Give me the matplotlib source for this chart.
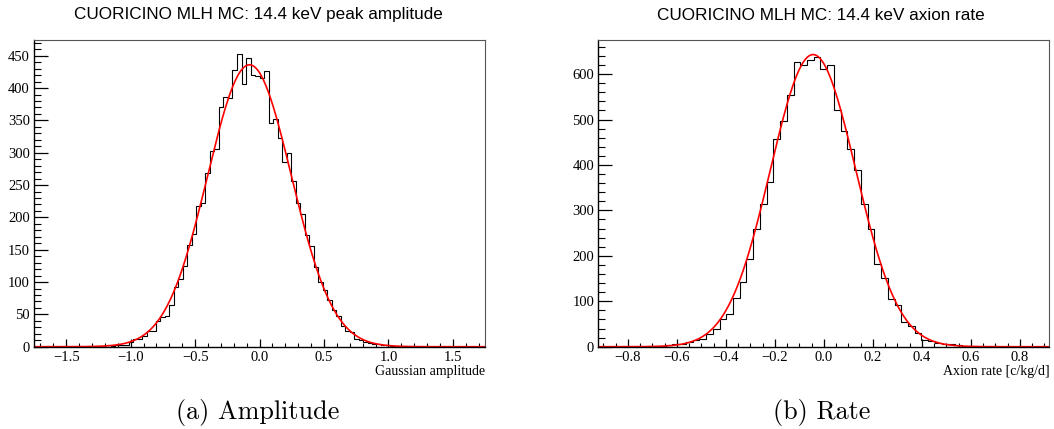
import numpy as np
import matplotlib.pyplot as plt
from matplotlib.ticker import MultipleLocator

# Amplitude histogram: 100 bins on [-1.75, 1.75]
amp_range = (-1.75, 1.75)
amp_counts = ([0] * 17 +
              [1, 2, 2, 3, 8, 12, 12, 17, 25, 25,
               39, 46, 48, 64, 92, 104, 125, 158, 175, 218,
               223, 268, 302, 305, 371, 386, 384, 428, 452, 406,
               447, 420, 418, 415, 427, 346, 352, 322, 286, 299,
               257, 223, 205, 172, 156, 124, 100, 88, 72, 57,
               47, 32, 25, 22, 12, 10, 8, 6, 4, 4, 3, 3, 1] +
              [0] * 20)
amp_fit = dict(amp=436, mean=-0.078, sigma=0.325)

# Rate histogram: 67 bins on [-0.92, 0.92]
rate_range = (-0.92, 0.92)
rate_counts = ([0] * 9 +
               [1, 3, 5, 6, 10, 14, 18, 28, 39, 60,
                71, 108, 143, 193, 259, 314, 363, 457, 496, 553,
                626, 619, 630, 637, 612, 620, 520, 474, 436, 388,
                314, 260, 183, 152, 104, 91, 54, 45, 31, 15,
                12, 9, 7, 5, 3] +
               [0] * 13)
rate_fit = dict(amp=643, mean=-0.044, sigma=0.174)

serif = "Liberation Serif"


def draw(ax, counts, xr, fit, ymax, xmaj, xmin, ymaj, ymin, xlabel):
    edges = np.linspace(xr[0], xr[1], len(counts) + 1)
    ax.stairs(counts, edges, color="black", lw=0.8)
    xs = np.linspace(xr[0], xr[1], 600)
    ax.plot(xs, fit["amp"] * np.exp(-0.5 * ((xs - fit["mean"]) / fit["sigma"]) ** 2),
            color="red", lw=1.2)
    ax.set_xlim(xr)
    ax.set_ylim(0, ymax)
    ax.xaxis.set_major_locator(MultipleLocator(xmaj))
    ax.xaxis.set_minor_locator(MultipleLocator(xmin))
    ax.yaxis.set_major_locator(MultipleLocator(ymaj))
    ax.yaxis.set_minor_locator(MultipleLocator(ymin))
    ax.tick_params(axis="x", which="major", direction="in", length=6, width=0.9, pad=3)
    ax.tick_params(axis="x", which="minor", direction="in", length=3, width=0.8)
    ax.tick_params(axis="y", which="major", direction="in", length=10, width=0.9, pad=3)
    ax.tick_params(axis="y", which="minor", direction="in", length=5, width=0.8)
    ax.tick_params(top=False, right=False, which="both")
    for lab in ax.get_xticklabels() + ax.get_yticklabels():
        lab.set_fontfamily(serif)
        lab.set_fontsize(10.5)
    for s in ["left", "bottom"]:
        ax.spines[s].set_color("black")
        ax.spines[s].set_linewidth(1.0)
    for s in ["top", "right"]:
        ax.spines[s].set_color("#555555")
        ax.spines[s].set_linewidth(0.8)
    ax.set_xlabel(xlabel, fontfamily=serif, fontsize=10, loc="right", labelpad=1)


fig = plt.figure(figsize=(10.54, 4.29), dpi=100)
ax1 = fig.add_axes([0.0323, 0.1918, 0.4279, 0.716])
ax2 = fig.add_axes([0.5677, 0.1918, 0.4279, 0.716])

draw(ax1, amp_counts, amp_range, amp_fit, 475, 0.5, 0.1, 50, 10, "Gaussian amplitude")
draw(ax2, rate_counts, rate_range, rate_fit, 676, 0.2, 0.05, 100, 20, "Axion rate [c/kg/d]")

fig.text(258 / 1054, 1 - 15 / 429, "CUORICINO MLH MC: 14.4 keV peak amplitude",
         ha="center", va="center", fontfamily="Liberation Sans", fontsize=12.3)
fig.text(821 / 1054, 1 - 15 / 429, "CUORICINO MLH MC: 14.4 keV axion rate",
         ha="center", va="center", fontfamily="Liberation Sans", fontsize=12.3)

fig.text(258 / 1054, 1 - 412 / 429, "(a) Amplitude", ha="center", va="center",
         fontfamily="cmr10", fontsize=18.8)
fig.text(822 / 1054, 1 - 412 / 429, "(b) Rate", ha="center", va="center",
         fontfamily="cmr10", fontsize=18.8)

fig.savefig("out.png", dpi=100)
